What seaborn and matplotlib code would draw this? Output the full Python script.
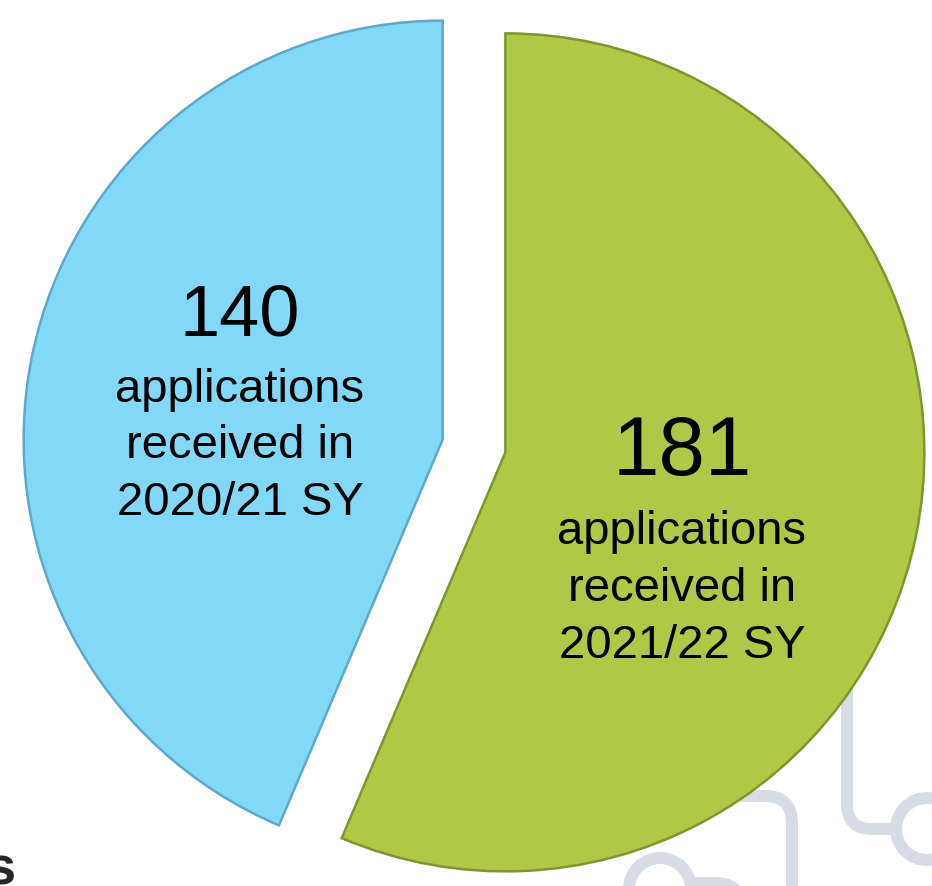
import numpy as np
import matplotlib
matplotlib.use('Agg')
import matplotlib.pyplot as plt
from matplotlib.path import Path
from matplotlib.patches import PathPatch
import seaborn as sns

# data
years = ['2020/21 SY', '2021/22 SY']
applications = [140, 181]
colors = ['#82D9F7', '#AFC845']
edge_colors = ['#5FA8C8', '#7E9630']

W, H = 932, 887

sns.set_theme(style='white')
plt.rcParams['font.family'] = ['Liberation Sans', 'DejaVu Sans']

fig = plt.figure(figsize=(W / 100, H / 100), dpi=100)
ax = fig.add_axes([0, 0, 1, 1])

deco = '#D5DCE6'
lw_deco = 8.6


def img(x, y):
    # slide pixel coords (y down) -> axes coords (y up)
    return (x, H - y)


def pipe(points, codes):
    verts = [img(*p) for p in points]
    ax.add_patch(PathPatch(Path(verts, codes), fill=False, edgecolor=deco,
                           lw=lw_deco, capstyle='butt', joinstyle='round', zorder=0))


def ring(cx, cy, r):
    c = plt.Circle(img(cx, cy), r, fill=False, edgecolor=deco, lw=lw_deco, zorder=0)
    ax.add_patch(c)


# background decoration (circuit-like lines behind the pie)
M, L, C = Path.MOVETO, Path.LINETO, Path.CURVE3
pipe([(847, 600), (847, 805), (847, 830), (872, 830), (897, 830)], [M, L, C, C, L])
ring(927, 830, 31)
pipe([(700, 797), (765, 797), (792, 797), (792, 824), (792, 900)], [M, L, C, C, L])
ring(660, 890, 31)
pipe([(690, 884), (715, 884), (740, 884), (740, 905)], [M, L, C, C])
ring(942, 922, 31)

# the pie itself (explode is in data units here, since radius is in pixels)
wedges, _ = ax.pie(applications, colors=colors, startangle=90, counterclock=True,
                   radius=419, center=(474, 440), explode=[32, 32],
                   wedgeprops=dict(linewidth=1.8), frame=False)
for w, ec in zip(wedges, edge_colors):
    w.set_edgecolor(ec)
    w.set_zorder(2)

ax.set_xlim(0, W)
ax.set_ylim(0, H)
ax.set_aspect('equal')
ax.axis('off')


def label_block(x, y_num, num_size, y_lines, text):
    ax.text(*img(x, y_num), str(text[0]), ha='center', va='baseline',
            fontsize=num_size, color='black', zorder=3)
    lines = ['applications', 'received in', text[1]]
    for ln, yb in zip(lines, y_lines):
        ax.text(*img(x, yb), ln, ha='center', va='baseline', fontsize=34,
                color='black', zorder=3)


label_block(240, 335, 52, [402, 458, 515], (applications[0], years[0]))
label_block(682, 475, 60, [544, 601, 658], (applications[1], years[1]))

# cut-off title letter at the bottom-left of the slide
fig.text(-15 / W, 2 / H, 's', fontsize=39, fontweight='bold', ha='left', va='baseline')

fig.savefig('out.png', dpi=100)
